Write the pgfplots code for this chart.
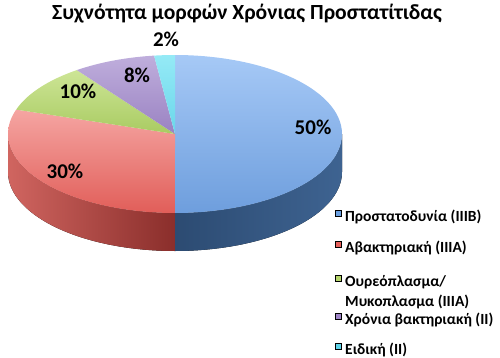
\documentclass[border=0pt]{standalone}
\usepackage{pgfplots}
\pgfplotsset{compat=1.18}
\usepackage{pgfplotstable}
\usepgfplotslibrary{fillbetween}
\usepackage{fontspec}
\setmainfont{Carlito}
\definecolor{blueT1}{HTML}{A6C9F6}
\definecolor{blueT2}{HTML}{6E9EDD}
\definecolor{blueS1}{HTML}{2C4B72}
\definecolor{blueS2}{HTML}{3E6391}
\definecolor{redT1}{HTML}{F5A5A2}
\definecolor{redT2}{HTML}{E15E59}
\definecolor{redS1}{HTML}{D06560}
\definecolor{redS2}{HTML}{8A2E2B}
\definecolor{greenT1}{HTML}{CDE596}
\definecolor{greenT2}{HTML}{A9CB62}
\definecolor{purT1}{HTML}{BFAEDC}
\definecolor{purT2}{HTML}{9A82C2}
\definecolor{cyaT1}{HTML}{95EAF6}
\definecolor{cyaT2}{HTML}{6AD6EA}
\definecolor{legB}{HTML}{6A9FE0}
\definecolor{legR}{HTML}{E6605B}
\definecolor{legG}{HTML}{B5D56B}
\definecolor{legP}{HTML}{9F85C8}
\definecolor{legC}{HTML}{5ED3E8}
\pgfplotstableread{
value
50
30
10
8
2
}\piedata
\begin{document}%
\begin{tikzpicture}
\pgfplotstablegetelem{0}{value}\of\piedata\let\vA\pgfplotsretval
\pgfplotstablegetelem{1}{value}\of\piedata\let\vB\pgfplotsretval
\pgfplotstablegetelem{2}{value}\of\piedata\let\vC\pgfplotsretval
\pgfplotstablegetelem{3}{value}\of\piedata\let\vD\pgfplotsretval
\pgfplotstablegetelem{4}{value}\of\piedata\let\vE\pgfplotsretval
\pgfmathsetmacro\tA{90}
\pgfmathsetmacro\tB{\tA-3.6*\vA}
\pgfmathsetmacro\tC{\tB-3.6*\vB}
\pgfmathsetmacro\tD{\tC-3.6*\vC}
\pgfmathsetmacro\tE{\tD-3.6*\vD}
\pgfmathsetmacro\tF{\tE-3.6*\vE}
\def\cx{175}\def\cy{134}\def\ra{167}\def\rb{79}\def\dep{38}
\begin{axis}[at={(0,0)}, anchor=south west, width=500pt, height=357pt, scale only axis,
  xmin=0, xmax=500, ymin=0, ymax=357, y dir=reverse, hide axis, clip=false]
% sides
\addplot[draw=none, name path=bt, domain=\tB:0, samples=60, forget plot] ({\cx+\ra*cos(x)},{\cy-\rb*sin(x)});
\addplot[draw=none, name path=bb, domain=\tB:0, samples=60, forget plot] ({\cx+\ra*cos(x)},{\cy-\rb*sin(x)+\dep});
\addplot[left color=blueS1, right color=blueS2, forget plot] fill between[of=bt and bb];
\addplot[draw=none, name path=rt, domain=-180:\tB, samples=60, forget plot] ({\cx+\ra*cos(x)},{\cy-\rb*sin(x)});
\addplot[draw=none, name path=rb, domain=-180:\tB, samples=60, forget plot] ({\cx+\ra*cos(x)},{\cy-\rb*sin(x)+\dep});
\addplot[left color=redS1, right color=redS2, forget plot] fill between[of=rt and rb];
% tops
\addplot[draw=none, top color=blueT1, bottom color=blueT2, domain=\tB:\tA, samples=90, forget plot] ({\cx+\ra*cos(x)},{\cy-\rb*sin(x)}) -- (axis cs:\cx,\cy) -- cycle;
\addplot[draw=none, top color=redT1, bottom color=redT2, domain=\tC:\tB, samples=60, forget plot] ({\cx+\ra*cos(x)},{\cy-\rb*sin(x)}) -- (axis cs:\cx,\cy) -- cycle;
\addplot[draw=none, top color=greenT1, bottom color=greenT2, domain=\tD:\tC, samples=30, forget plot] ({\cx+\ra*cos(x)},{\cy-\rb*sin(x)}) -- (axis cs:\cx,\cy) -- cycle;
\addplot[draw=none, top color=purT1, bottom color=purT2, domain=\tE:\tD, samples=30, forget plot] ({\cx+\ra*cos(x)},{\cy-\rb*sin(x)}) -- (axis cs:\cx,\cy) -- cycle;
\addplot[draw=none, top color=cyaT1, bottom color=cyaT2, domain=\tF:\tE, samples=10, forget plot] ({\cx+\ra*cos(x)},{\cy-\rb*sin(x)}) -- (axis cs:\cx,\cy) -- cycle;
% labels
\node[font=\bfseries\fontsize{21}{25}\selectfont, anchor=base] at (axis cs:313,134) {50\%};
\node[font=\bfseries\fontsize{21}{25}\selectfont, anchor=base] at (axis cs:65,178) {30\%};
\node[font=\bfseries\fontsize{21}{25}\selectfont, anchor=base] at (axis cs:78,98) {10\%};
\node[font=\bfseries\fontsize{21}{25}\selectfont, anchor=base] at (axis cs:137,82) {8\%};
\node[font=\bfseries\fontsize{21}{25}\selectfont, anchor=base] at (axis cs:166,47) {2\%};
\node[font=\bfseries\fontsize{21.6}{26}\selectfont, anchor=base] at (axis cs:247,19.5) {Συχνότητα μορφών Χρόνιας Προστατίτιδας};
% legend keys
\addplot[only marks, mark=square*, mark size=3pt, mark options={fill=legB, draw=none}, forget plot] coordinates {(338,213)};
\addplot[only marks, mark=square*, mark size=3pt, mark options={fill=legR, draw=none}, forget plot] coordinates {(338,244)};
\addplot[only marks, mark=square*, mark size=3pt, mark options={fill=legG, draw=none}, forget plot] coordinates {(338,278)};
\addplot[only marks, mark=square*, mark size=3pt, mark options={fill=legP, draw=none}, forget plot] coordinates {(338,316)};
\addplot[only marks, mark=square*, mark size=3pt, mark options={fill=legC, draw=none}, forget plot] coordinates {(338,346)};
\begin{scope}[every node/.style={anchor=base west, inner sep=0pt, font=\bfseries\fontsize{15.5}{18}\selectfont}]
\node at (axis cs:345,221) {Προστατοδυνία (IIIB)};
\node at (axis cs:345,252) {Αβακτηριακή (IIIA)};
\node at (axis cs:345,286) {Ουρεόπλασμα/};
\node at (axis cs:345,306) {Μυκοπλασμα (IIIA)};
\node at (axis cs:345,324) {Χρόνια βακτηριακή (II)};
\node at (axis cs:345,354) {Ειδική (II)};
\end{scope}
\end{axis}
\pgfresetboundingbox
\path (0,0) rectangle (500pt,357pt);
\end{tikzpicture}%
\end{document}
